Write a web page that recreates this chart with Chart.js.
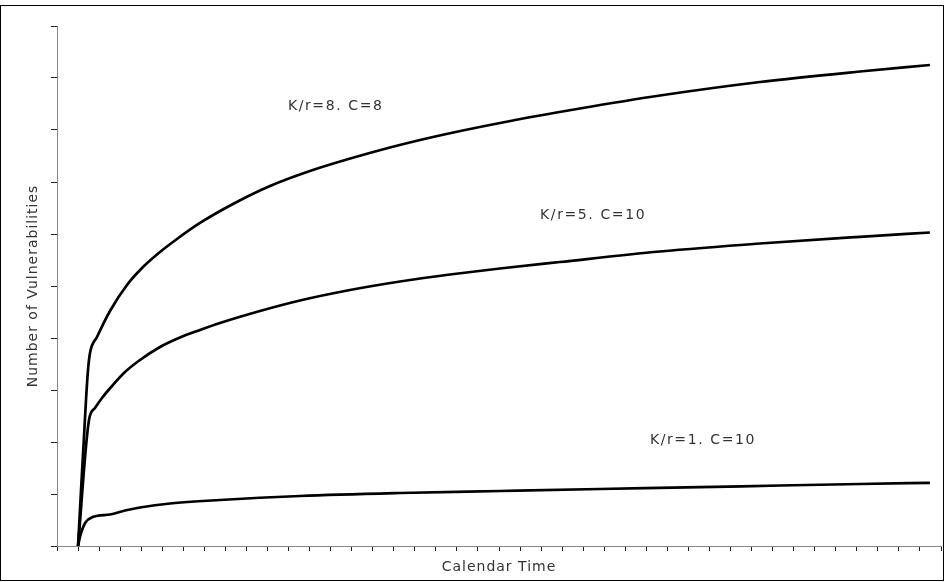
<!DOCTYPE html>
<html>
<head>
<meta charset="utf-8">
<script src="https://cdn.jsdelivr.net/npm/chart.js@4"></script>
<style>
  html, body { margin: 0; padding: 0; background: #fff; }
  #wrap { width: 945px; height: 582px; position: relative; }
</style>
</head>
<body>
<div id="wrap"><canvas id="c" width="945" height="582"></canvas></div>
<script>
// Calendar time (tick units) and cumulative vulnerabilities for each scenario
const highTime = [1, 1.378, 1.473, 1.568, 1.900, 2.518, 3.325, 4.086, 4.893, 5.701, 6.793, 8.361, 10.119, 12.019, 15.202, 17.862, 21.045, 24.846, 28.646, 33.397, 38.147, 41.473];
const highVulns = [0, 2.808, 3.385, 3.712, 4.019, 4.519, 5.019, 5.365, 5.654, 5.904, 6.212, 6.577, 6.923, 7.212, 7.596, 7.865, 8.135, 8.413, 8.663, 8.923, 9.125, 9.250];

const midTime = [1, 1.520, 1.805, 2.138, 2.613, 3.230, 3.943, 4.893, 5.843, 6.793, 7.743, 9.644, 11.544, 13.919, 16.295, 18.670, 21.045, 23.895, 28.646, 33.397, 38.147, 41.473];
const midVulns = [0, 2.423, 2.654, 2.846, 3.077, 3.346, 3.577, 3.827, 4.010, 4.154, 4.288, 4.519, 4.721, 4.923, 5.087, 5.221, 5.337, 5.462, 5.663, 5.817, 5.946, 6.029];

const lowTime = [1, 1.093, 1.330, 1.724, 2.518, 3.230, 3.943, 5.368, 7.743, 11.544, 16.295, 21.045, 25.796, 30.546, 34.347, 38.147, 41.473];
const lowVulns = [0, 0.179, 0.437, 0.563, 0.606, 0.683, 0.740, 0.817, 0.885, 0.962, 1.019, 1.058, 1.096, 1.131, 1.163, 1.192, 1.215];

// Scenario captions and where they sit (data units: time, vulnerabilities at baseline)
const captionText = ['K/r=8. C=8', 'K/r=5. C=10', 'K/r=1. C=10'];
const captionTime = [10.97, 22.95, 28.17];
const captionVulns = [8.38, 6.28, 1.96];

// Axis extents and tick spacing
const timeMax = 42;
const vulnsMax = 10;

const toPoints = (xs, ys) => xs.map((x, i) => ({ x: x, y: ys[i] }));

const FONT = 'DejaVu Sans';
const TEXT_COLOR = '#333333';

const curveStyle = {
  borderColor: '#000000',
  borderWidth: 2.7,
  pointRadius: 0,
  fill: false,
  cubicInterpolationMode: 'monotone',
  clip: false
};

// Spaced-out text for titles and captions, plus the frame round the picture
const framePlugin = {
  id: 'frame',
  beforeDraw(chart) {
    chart.ctx.letterSpacing = '1px';
  },
  afterDatasetsDraw(chart) {
    const { ctx, scales } = chart;
    ctx.save();
    ctx.letterSpacing = '1.6px';
    ctx.font = '14px "' + FONT + '"';
    ctx.fillStyle = TEXT_COLOR;
    ctx.textAlign = 'left';
    ctx.textBaseline = 'alphabetic';
    captionText.forEach((t, i) => {
      ctx.fillText(t, scales.x.getPixelForValue(captionTime[i]), scales.y.getPixelForValue(captionVulns[i]));
    });
    ctx.restore();
  },
  afterDraw(chart) {
    const ctx = chart.ctx;
    ctx.save();
    ctx.strokeStyle = '#000000';
    ctx.lineWidth = 1;
    ctx.strokeRect(0.5, 5.5, chart.width - 2, chart.height - 7);
    ctx.restore();
    ctx.letterSpacing = '0px';
  }
};

new Chart(document.getElementById('c'), {
  type: 'line',
  data: {
    datasets: [
      Object.assign({ label: captionText[0], data: toPoints(highTime, highVulns) }, curveStyle),
      Object.assign({ label: captionText[1], data: toPoints(midTime, midVulns) }, curveStyle),
      Object.assign({ label: captionText[2], data: toPoints(lowTime, lowVulns) }, curveStyle)
    ]
  },
  options: {
    responsive: false,
    animation: false,
    devicePixelRatio: 1,
    layout: { padding: { left: 0, top: 26, right: 4, bottom: 0 } },
    plugins: { legend: { display: false }, tooltip: { enabled: false } },
    scales: {
      x: {
        type: 'linear',
        min: 0,
        max: timeMax,
        ticks: { display: false, stepSize: 1 },
        grid: { drawOnChartArea: false, drawTicks: true, tickLength: 5, tickColor: '#222222', tickWidth: 1 },
        border: { display: true, color: '#888888', width: 1 },
        title: {
          display: true,
          text: 'Calendar Time',
          color: TEXT_COLOR,
          font: { family: FONT, size: 14 },
          padding: { top: 0, bottom: 6.6 }
        },
        afterFit(scale) { scale.height = 36; }
      },
      y: {
        type: 'linear',
        min: 0,
        max: vulnsMax,
        ticks: { display: false, stepSize: 1 },
        grid: { drawOnChartArea: false, drawTicks: true, tickLength: 6, tickColor: '#222222', tickWidth: 1 },
        border: { display: true, color: '#888888', width: 1 },
        title: {
          display: true,
          text: 'Number of Vulnerabilities',
          color: TEXT_COLOR,
          font: { family: FONT, size: 14 },
          padding: { top: 24.6, bottom: 0 }
        },
        afterFit(scale) { scale.width = 57; }
      }
    }
  },
  plugins: [framePlugin]
});
</script>
</body>
</html>
